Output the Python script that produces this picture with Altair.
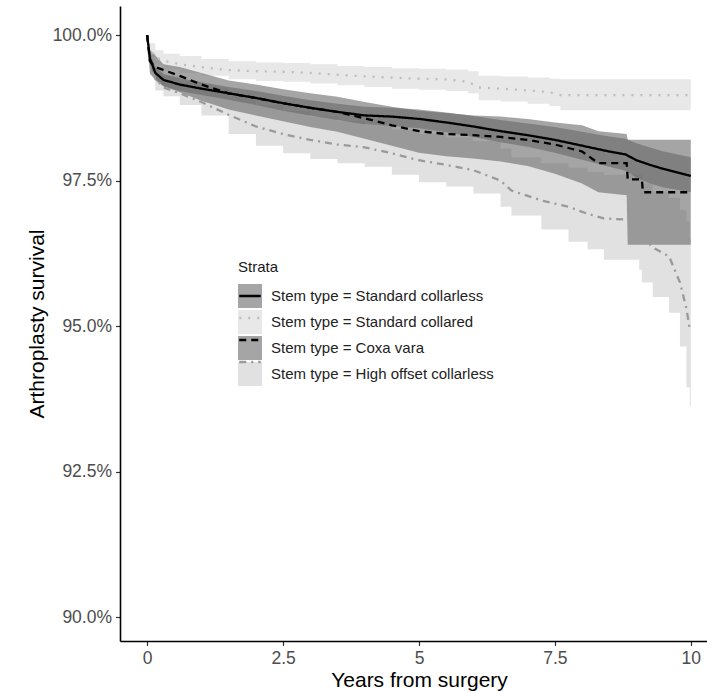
import altair as alt
import pandas as pd

FONT = "Liberation Sans"

STRATA = [
    "Stem type = Standard collarless",
    "Stem type = Standard collared",
    "Stem type = Coxa vara",
    "Stem type = High offset collarless",
]
LINE_CODES = ["SL", "SC", "CV", "HO"]

# Standard collarless (solid black)
T_SL = [0, 0.05, 0.15, 0.3, 0.6, 1.0, 1.5, 2.0, 2.5, 3.0, 3.5, 4.0, 4.5, 5.0, 5.5, 6.0, 6.5, 7.0, 7.5, 8.0, 8.5, 8.8, 9.0, 9.25, 9.5, 10.0]
S_SL = [100, 99.6, 99.35, 99.23, 99.15, 99.08, 99.0, 98.92, 98.83, 98.75, 98.68, 98.62, 98.6, 98.56, 98.5, 98.43, 98.35, 98.28, 98.2, 98.1, 98.0, 97.95, 97.85, 97.77, 97.7, 97.58]
LO_SL = [100, 99.5, 99.25, 99.12, 99.04, 98.97, 98.89, 98.8, 98.7, 98.62, 98.54, 98.47, 98.44, 98.4, 98.33, 98.25, 98.16, 98.08, 97.98, 97.86, 97.74, 97.67, 97.55, 97.45, 97.38, 97.3]
HI_SL = [100, 99.7, 99.45, 99.33, 99.26, 99.19, 99.11, 99.04, 98.96, 98.88, 98.82, 98.77, 98.75, 98.72, 98.67, 98.61, 98.54, 98.48, 98.42, 98.34, 98.26, 98.22, 98.14, 98.07, 98.0, 97.9]

# Standard collared (dotted light grey)
T_SC = [0, 0.05, 0.15, 0.3, 0.6, 1.0, 1.5, 2.0, 2.5, 3.0, 3.5, 4.0, 4.5, 5.0, 5.5, 5.9, 6.1, 6.5, 7.0, 7.4, 7.6, 8.0, 9.0, 10.0]
S_SC = [100, 99.75, 99.62, 99.56, 99.5, 99.45, 99.4, 99.38, 99.37, 99.35, 99.32, 99.29, 99.27, 99.25, 99.24, 99.2, 99.1, 99.08, 99.05, 99.02, 98.97, 98.97, 98.97, 98.97]
LO_SC = [100, 99.63, 99.48, 99.41, 99.35, 99.3, 99.24, 99.21, 99.2, 99.17, 99.14, 99.11, 99.08, 99.06, 99.04, 99.0, 98.88, 98.86, 98.82, 98.78, 98.71, 98.71, 98.71, 98.71]
HI_SC = [100, 99.86, 99.74, 99.68, 99.64, 99.59, 99.55, 99.53, 99.52, 99.5, 99.47, 99.45, 99.43, 99.42, 99.41, 99.38, 99.3, 99.29, 99.27, 99.25, 99.24, 99.24, 99.24, 99.24]

# Coxa vara (dashed black)
T_CV = [0, 0.05, 0.15, 0.3, 0.6, 1.0, 1.5, 2.0, 2.5, 3.0, 3.5, 4.0, 4.5, 5.0, 5.5, 6.0, 6.5, 7.0, 7.5, 8.0, 8.3, 8.82, 8.84, 9.1, 9.12, 10.0]
S_CV = [100, 99.55, 99.45, 99.4, 99.3, 99.15, 99.0, 98.92, 98.83, 98.75, 98.68, 98.57, 98.45, 98.35, 98.3, 98.28, 98.25, 98.2, 98.12, 98.0, 97.8, 97.8, 97.52, 97.52, 97.3, 97.3]
LO_CV = [100, 99.35, 99.22, 99.12, 99.02, 98.87, 98.72, 98.62, 98.52, 98.42, 98.34, 98.22, 98.1, 97.98, 97.92, 97.88, 97.83, 97.75, 97.62, 97.45, 97.3, 97.25, 96.4, 96.4, 96.4, 96.4]
HI_CV = [100, 99.75, 99.65, 99.5, 99.45, 99.35, 99.22, 99.15, 99.07, 99.0, 98.94, 98.85, 98.77, 98.7, 98.66, 98.62, 98.6, 98.56, 98.5, 98.45, 98.35, 98.3, 98.2, 98.2, 98.2, 98.2]

# High offset collarless (dot-dash grey)
T_HO = [0, 0.05, 0.15, 0.3, 0.6, 1.0, 1.5, 2.0, 2.5, 3.0, 3.5, 4.0, 4.5, 5.0, 5.5, 6.0, 6.5, 6.7, 7.25, 7.75, 8.1, 8.4, 9.05, 9.1, 9.3, 9.6, 9.8, 9.92, 9.98, 10.0]
S_HO = [100, 99.5, 99.25, 99.1, 99.0, 98.85, 98.63, 98.43, 98.3, 98.2, 98.12, 98.07, 97.97, 97.85, 97.77, 97.68, 97.5, 97.33, 97.16, 97.05, 96.93, 96.85, 96.82, 96.55, 96.35, 96.2, 95.75, 95.3, 94.95, 94.95]
LO_HO = [100, 99.3, 99.05, 98.95, 98.8, 98.62, 98.3, 98.1, 97.97, 97.87, 97.8, 97.74, 97.6, 97.47, 97.4, 97.28, 97.05, 96.9, 96.66, 96.45, 96.32, 96.14, 95.97, 95.75, 95.5, 95.23, 94.65, 93.95, 93.63, 93.63]
HI_HO = [100, 99.7, 99.45, 99.3, 99.2, 99.1, 98.95, 98.8, 98.7, 98.6, 98.52, 98.45, 98.38, 98.3, 98.24, 98.18, 98.05, 97.9, 97.8, 97.72, 97.65, 97.6, 97.6, 97.45, 97.3, 97.2, 97.0, 96.8, 96.5, 96.5]

X_TICKS = [0, 2.5, 5, 7.5, 10]
Y_TICKS = [90, 92.5, 95, 97.5, 100]

series = [
    (STRATA[1], "SC", T_SC, S_SC, LO_SC, HI_SC),
    (STRATA[3], "HO", T_HO, S_HO, LO_HO, HI_HO),
    (STRATA[2], "CV", T_CV, S_CV, LO_CV, HI_CV),
    (STRATA[0], "SL", T_SL, S_SL, LO_SL, HI_SL),
]
rows = []
for name, code, T, S, LO, HI in series:
    for t, s, lo, hi in zip(T, S, LO, HI):
        rows.append({"Strata": name, "Line": code, "t": t, "S": s, "lo": lo, "hi": hi})
df = pd.DataFrame(rows)

x_scale = alt.Scale(domain=[-0.5, 10.298], nice=False, zero=False)
y_scale = alt.Scale(domain=[89.59, 100.5], nice=False, zero=False)

fill_scale = alt.Scale(domain=STRATA, range=["#666666", "#d8d8d8", "#666666", "#cccccc"])
stroke_scale = alt.Scale(domain=LINE_CODES, range=["#000000", "#bdbdbd", "#000000", "#9a9a9a"])
dash_scale = alt.Scale(domain=LINE_CODES, range=[[1, 0], [2, 7], [7, 5], [7, 5, 2, 5]])

x_axis = alt.Axis(
    values=X_TICKS, labelExpr="'' + datum.value", title="Years from surgery",
    titleX=299, titleY=45, titleBaseline="alphabetic", titleAlign="center",
    labelPadding=4,
)
y_axis = alt.Axis(
    values=Y_TICKS, labelExpr="format(datum.value, '.1f') + '%'",
    title="Arthroplasty survival", titleX=-77, titleY=317.5, titleAngle=270,
    titleBaseline="alphabetic", titleAlign="center", labelPadding=4,
)

fill_legend = alt.Legend(
    orient="none", legendX=118, legendY=254, direction="vertical", padding=0,
    title="Strata", titleFont=FONT, titleFontSize=15, titleFontWeight="normal",
    titleColor="#1a1a1a", titlePadding=9,
    symbolType="square", symbolSize=576, symbolStrokeWidth=0, symbolOpacity=0.59,
    labelFont=FONT, labelFontSize=15, labelColor="#222222", labelOffset=9,
    labelLimit=500, rowPadding=2,
)
line_legend = alt.Legend(
    orient="none", legendX=118, legendY=278, direction="vertical", padding=0,
    symbolType="stroke", symbolSize=462, symbolStrokeWidth=2.5,
    labelExpr="''", labelFontSize=15, labelFont=FONT, rowPadding=2,
)

X = alt.X("t:Q", scale=x_scale, axis=x_axis)


def band(names, interp):
    return alt.Chart(df).transform_filter(
        alt.FieldOneOfPredicate(field="Strata", oneOf=names)
    ).mark_area(interpolate=interp, fillOpacity=0.59).encode(
        x=X,
        y=alt.Y("lo:Q", scale=y_scale, axis=y_axis),
        y2="hi:Q",
        fill=alt.Fill("Strata:N", scale=fill_scale, legend=fill_legend),
    )


lines = alt.Chart(df).mark_line(strokeWidth=2.3).encode(
    x=X,
    y=alt.Y("S:Q", scale=y_scale, axis=y_axis),
    stroke=alt.Stroke("Line:N", scale=stroke_scale, legend=line_legend, title=None),
    strokeDash=alt.StrokeDash("Line:N", scale=dash_scale, legend=line_legend, title=None),
)

chart = alt.layer(
    band([STRATA[1], STRATA[3]], "step-after"),
    band([STRATA[2]], "linear"),
    band([STRATA[0]], "linear"),
    lines,
).properties(
    width=587, height=635,
    padding={"left": 120, "top": 6, "right": 0, "bottom": 51},
    autosize=alt.AutoSizeParams(type="none"),
    background="white",
).configure_view(stroke=None).configure_axis(
    grid=False, domainColor="#000000", domainWidth=1.6,
    tickColor="#333333", tickWidth=1.2, tickSize=4.5,
    labelColor="#4d4d4d", labelFont=FONT, labelFontSize=17.5,
    titleFont=FONT, titleFontSize=21, titleColor="#000000", titleFontWeight="normal",
)

chart.save("out.html", embed_options={"renderer": "svg", "actions": False})
